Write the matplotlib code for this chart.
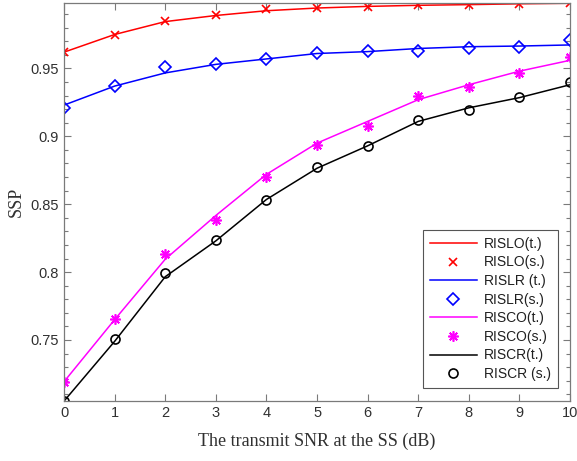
import matplotlib
matplotlib.use("Agg")
import matplotlib.pyplot as plt
from matplotlib.ticker import MultipleLocator, FuncFormatter

# -----------------------------
# DATA
# -----------------------------
snr_db = [0, 1, 2, 3, 4, 5, 6, 7, 8, 9, 10]

rislo_theory = [0.962, 0.975, 0.9845, 0.989, 0.9925, 0.9945, 0.9957, 0.9965, 0.997, 0.9976, 0.998]
rislo_sim    = [0.962, 0.9743, 0.985, 0.9894, 0.9935, 0.9945, 0.9956, 0.9965, 0.9968, 0.9977, 0.9982]

rislr_theory = [0.923, 0.937, 0.9467, 0.953, 0.957, 0.961, 0.9624, 0.9647, 0.966, 0.9665, 0.9673]
rislr_sim    = [0.9205, 0.9368, 0.9514, 0.953, 0.957, 0.9612, 0.963, 0.963, 0.965, 0.966, 0.9708]

risco_theory = [0.7193, 0.765, 0.8095, 0.8417, 0.872, 0.895, 0.911, 0.927, 0.938, 0.948, 0.956]
risco_sim    = [0.7193, 0.7653, 0.813, 0.838, 0.870, 0.8936, 0.9074, 0.930, 0.936, 0.9468, 0.9587]

riscr_theory = [0.705, 0.749, 0.7966, 0.823, 0.8535, 0.8765, 0.893, 0.911, 0.921, 0.9285, 0.938]
riscr_sim    = [0.705, 0.7508, 0.799, 0.8235, 0.8533, 0.8775, 0.8928, 0.912, 0.9195, 0.929, 0.9403]

x_ticks = [0, 1, 2, 3, 4, 5, 6, 7, 8, 9, 10]
y_ticks = [0.75, 0.8, 0.85, 0.9, 0.95]

labels = ["RISLO(t.)", "RISLO(s.)", "RISLR (t.)", "RISLR(s.)",
          "RISCO(t.)", "RISCO(s.)", "RISCR(t.)", "RISCR (s.)"]

# -----------------------------
# STYLE
# -----------------------------
AX_COLOR = "#7a7a7a"
TXT_COLOR = "#303030"
SANS = ["Liberation Sans", "DejaVu Sans"]
SERIF = ["Liberation Serif", "DejaVu Serif"]
STAR = (8, 2, 0)

fig = plt.figure(figsize=(5.77, 4.61), dpi=100)
ax = fig.add_axes([0.111, 0.130, 0.877, 0.8635])

ax.plot(snr_db, rislo_theory, color="red", lw=1.1, label=labels[0])
ax.plot(snr_db, rislo_sim, ls="none", marker="x", ms=6, mew=1.2, color="red", label=labels[1])
ax.plot(snr_db, rislr_theory, color="blue", lw=1.1, label=labels[2])
ax.plot(snr_db, rislr_sim, ls="none", marker="D", ms=6, mew=1.2, mfc="none", color="blue", label=labels[3])
ax.plot(snr_db, risco_theory, color="magenta", lw=1.1, label=labels[4])
ax.plot(snr_db, risco_sim, ls="none", marker=STAR, ms=7.5, mew=1.2, color="magenta", label=labels[5])
ax.plot(snr_db, riscr_theory, color="black", lw=1.1, label=labels[6])
ax.plot(snr_db, riscr_sim, ls="none", marker="o", ms=6.5, mew=1.2, mfc="none", color="black", label=labels[7])

# axis tight (like MATLAB)
all_y = rislo_theory + rislo_sim + rislr_theory + rislr_sim + risco_theory + risco_sim + riscr_theory + riscr_sim
ax.set_xlim(min(snr_db), max(snr_db))
ax.set_ylim(min(all_y), max(all_y))

ax.set_xticks(x_ticks)
ax.set_yticks(y_ticks)
ax.yaxis.set_minor_locator(MultipleLocator(0.01))
ax.yaxis.set_major_formatter(FuncFormatter(lambda v, p: "%g" % v))

ax.tick_params(which="both", direction="in", top=True, right=True,
               color=AX_COLOR, labelcolor=TXT_COLOR, labelsize=10.5, width=0.8)
ax.tick_params(which="major", length=5)
ax.tick_params(which="minor", length=3)
for lab in ax.get_xticklabels() + ax.get_yticklabels():
    lab.set_family(SANS)
for s in ax.spines.values():
    s.set_color(AX_COLOR)
    s.set_linewidth(0.9)

ax.set_xlabel("The transmit SNR at the SS (dB)", family=SERIF, fontsize=13, color=TXT_COLOR, labelpad=9)
ax.set_ylabel("SSP", family=SERIF, fontsize=13, color=TXT_COLOR, labelpad=4)

leg = ax.legend(loc="lower right", bbox_to_anchor=(0.976, 0.033), borderaxespad=0,
                prop={"family": SANS, "size": 10},
                handlelength=3.4, handletextpad=0.5, labelspacing=0.33, borderpad=0.5,
                fancybox=False, framealpha=1, edgecolor="#555555")
leg.get_frame().set_linewidth(0.8)
for t in leg.get_texts():
    t.set_color("#202020")

fig.savefig("out.png", dpi=100)
